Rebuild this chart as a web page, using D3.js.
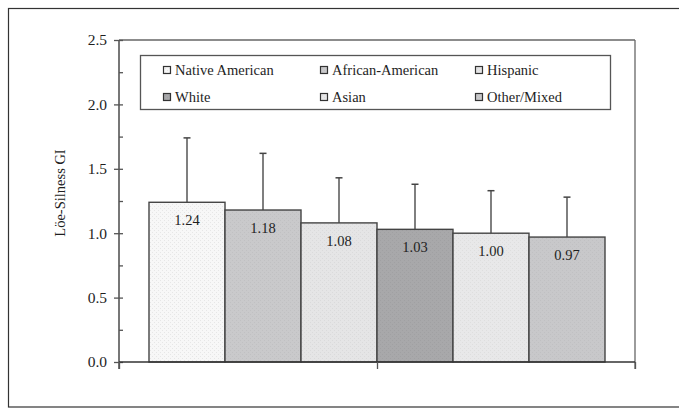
<!DOCTYPE html>
<html>
<head>
<meta charset="utf-8">
<script src="https://cdn.jsdelivr.net/npm/d3@7"></script>
<style>
  html, body { margin: 0; padding: 0; background: #fff; }
  svg { display: block; }
  text { font-family: "Liberation Serif", "Times New Roman", serif; fill: #1e1e1e; }
</style>
</head>
<body>
<svg id="chart" width="679" height="409"></svg>
<script>
// ---- data ----
const categories = ["Native American", "African-American", "Hispanic", "White", "Asian", "Other/Mixed"];
const meanValues = [1.24, 1.18, 1.08, 1.03, 1.00, 0.97];
const upperErrors = [1.74, 1.62, 1.43, 1.38, 1.33, 1.28];
const barLabels = ["1.24", "1.18", "1.08", "1.03", "1.00", "0.97"];
const yTicks = [0, 0.5, 1.0, 1.5, 2.0, 2.5];
const yMinorTicks = [0.25, 0.75, 1.25, 1.75, 2.25];
const yTitle = "Löe-Silness GI";

// ---- styles ----
const baseColors = ["#f7f7f7", "#c9c9cb", "#e5e5e6", "#a8a8aa", "#e8e8e9", "#c8c8ca"];
const dotColors  = ["#e6e6e6", "#c0c0c2", "#dadadb", "#a0a0a2", "#dedede", "#c0c0c2"];

const svg = d3.select("#chart");

// outer frame
svg.append("rect").attr("x", 8.5).attr("y", 8.5).attr("width", 680).attr("height", 398.5)
  .attr("fill", "none").attr("stroke", "#333").attr("stroke-width", 1.2);

const plot = { left: 119, right: 635, top: 40, bottom: 362 };

const y = d3.scaleLinear().domain([0, 2.5]).range([plot.bottom, plot.top]);
const xGroup = d3.scaleBand().domain(["all"]).range([plot.left, plot.right]).paddingOuter(0.0658).paddingInner(0);
const x = d3.scaleBand().domain(categories).range([xGroup("all"), xGroup("all") + xGroup.bandwidth()]).padding(0);

// patterns
const defs = svg.append("defs");
categories.forEach((c, i) => {
  const p = defs.append("pattern").attr("id", "pat" + i).attr("patternUnits", "userSpaceOnUse")
    .attr("width", 4).attr("height", 4);
  p.append("rect").attr("width", 4).attr("height", 4).attr("fill", baseColors[i]);
  p.append("rect").attr("x", 0).attr("y", 0).attr("width", 1).attr("height", 1).attr("fill", dotColors[i]);
  p.append("rect").attr("x", 2).attr("y", 2).attr("width", 1).attr("height", 1).attr("fill", dotColors[i]);
});

// plot area border (top & right)
svg.append("line").attr("x1", plot.left).attr("x2", plot.right).attr("y1", plot.top).attr("y2", plot.top)
  .attr("stroke", "#666").attr("stroke-width", 1.3);
svg.append("line").attr("x1", plot.right).attr("x2", plot.right).attr("y1", plot.top).attr("y2", plot.bottom + 7)
  .attr("stroke", "#666").attr("stroke-width", 1.3);

// error bars (behind bars)
const err = svg.append("g");
categories.forEach((c, i) => {
  const cx = x(c) + x.bandwidth() / 2;
  err.append("line").attr("x1", cx).attr("x2", cx).attr("y1", y(meanValues[i])).attr("y2", y(upperErrors[i]))
    .attr("stroke", "#555").attr("stroke-width", 1.5);
  err.append("line").attr("x1", cx - 3.5).attr("x2", cx + 3.5).attr("y1", y(upperErrors[i])).attr("y2", y(upperErrors[i]))
    .attr("stroke", "#444").attr("stroke-width", 1.5);
});

// bars
svg.append("g").selectAll("rect").data(categories).join("rect")
  .attr("x", d => x(d)).attr("width", x.bandwidth())
  .attr("y", (d, i) => y(meanValues[i])).attr("height", (d, i) => y(0) - y(meanValues[i]))
  .attr("fill", (d, i) => "url(#pat" + i + ")")
  .attr("stroke", "#444").attr("stroke-width", 1.4);

// bar value labels
svg.append("g").selectAll("text").data(categories).join("text")
  .attr("x", d => x(d) + x.bandwidth() / 2)
  .attr("y", (d, i) => y(meanValues[i]) + 23)
  .attr("text-anchor", "middle").attr("font-size", 14.5)
  .text((d, i) => barLabels[i]);

// y axis
const yAxis = svg.append("g").attr("transform", `translate(${plot.left},0)`)
  .call(d3.axisLeft(y).tickValues(yTicks).tickFormat(d3.format(".1f")).tickSize(5).tickPadding(6));
yAxis.select(".domain").remove();
yAxis.selectAll(".tick line").attr("x2", -5).attr("x1", 4).attr("stroke", "#555").attr("stroke-width", 1.3);
yAxis.selectAll(".tick text").attr("font-size", 15.5).attr("font-family", "Liberation Serif, serif").attr("fill", "#1e1e1e").attr("x", -12);
const yMinor = svg.append("g").attr("transform", `translate(${plot.left},0)`)
  .call(d3.axisRight(y).tickValues(yMinorTicks).tickSize(4).tickFormat(""));
yMinor.select(".domain").remove();
yMinor.selectAll(".tick line").attr("stroke", "#555").attr("stroke-width", 1.3);
svg.append("line").attr("x1", plot.left).attr("x2", plot.left).attr("y1", plot.top).attr("y2", plot.bottom + 7)
  .attr("stroke", "#555").attr("stroke-width", 1.6);

// x axis
const xTickScale = d3.scaleLinear().domain([0, 2]).range([plot.left, plot.right]);
const xAxis = svg.append("g").attr("transform", `translate(0,${plot.bottom})`)
  .call(d3.axisBottom(xTickScale).tickValues([0, 1, 2]).tickSize(7).tickFormat(""));
xAxis.select(".domain").attr("stroke", "#333").attr("stroke-width", 1.5).attr("d", `M${plot.left},0H${plot.right}`);
xAxis.selectAll(".tick line").attr("stroke", "#555").attr("stroke-width", 1.3);

// y title
svg.append("text").attr("transform", "translate(60,193) rotate(-90)")
  .attr("text-anchor", "middle").attr("font-size", 14.5).attr("dy", "0.35em").text(yTitle);

// legend
const legend = svg.append("g");
legend.append("rect").attr("x", 140.5).attr("y", 55.5).attr("width", 470).attr("height", 54)
  .attr("fill", "#fff").attr("stroke", "#555").attr("stroke-width", 1.3);
const colX = [163, 320, 475];
const rowY = [70, 97];
categories.forEach((c, i) => {
  const col = i % 3, row = Math.floor(i / 3);
  const g = legend.append("g").attr("transform", `translate(${colX[col]},${rowY[row]})`);
  g.append("rect").attr("x", 0.5).attr("y", -3.5).attr("width", 7).attr("height", 7)
    .attr("fill", "url(#pat" + i + ")").attr("stroke", "#333").attr("stroke-width", 1.2);
  g.append("text").attr("x", 12).attr("y", 4.8).attr("font-size", 14.5).text(c);
});
</script>
</body>
</html>
